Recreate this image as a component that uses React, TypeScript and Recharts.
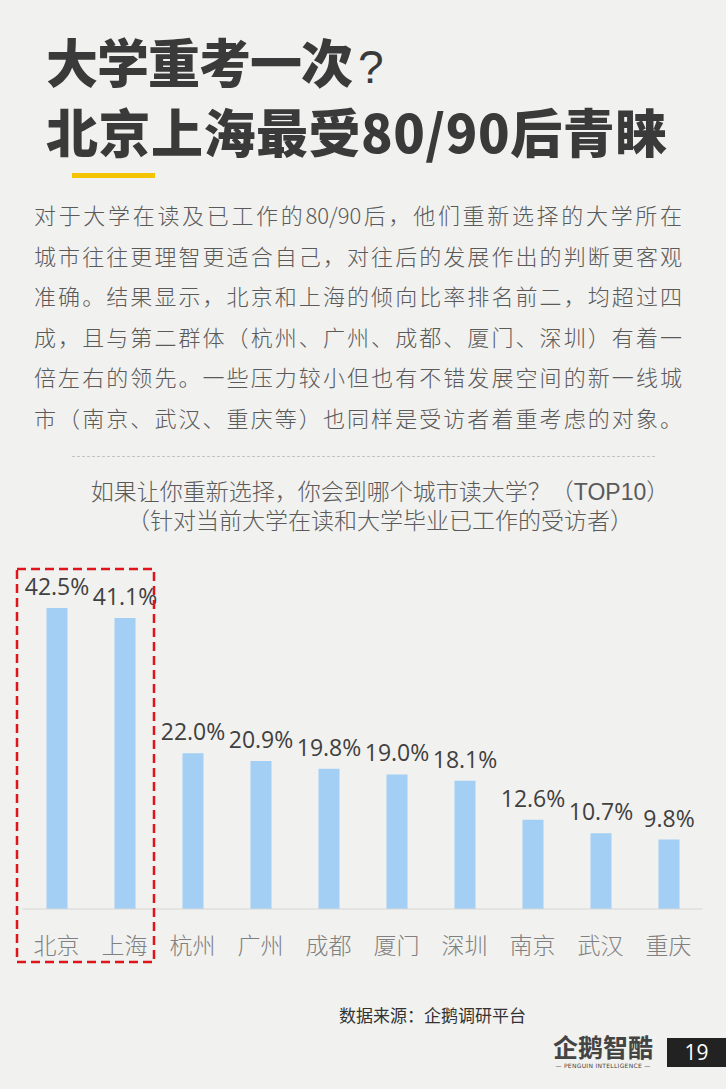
import React from "react";
import { BarChart, Bar, XAxis, YAxis, LabelList } from "recharts";

// 城市 / 比例 (%)
const cities = ["北京", "上海", "杭州", "广州", "成都", "厦门", "深圳", "南京", "武汉", "重庆"];
const shares = [42.5, 41.1, 22.0, 20.9, 19.8, 19.0, 18.1, 12.6, 10.7, 9.8];

const titleLines = ["大学重考一次", "北京上海最受80/90后青睐"];
const introLines = [
    "对于大学在读及已工作的80/90后，他们重新选择的大学所在",
    "城市往往更理智更适合自己，对往后的发展作出的判断更客观",
    "准确。结果显示，北京和上海的倾向比率排名前二，均超过四",
    "成，且与第二群体（杭州、广州、成都、厦门、深圳）有着一",
    "倍左右的领先。一些压力较小但也有不错发展空间的新一线城",
    "市（南京、武汉、重庆等）也同样是受访者着重考虑的对象。",
];
const chartTitle = [
    "如果让你重新选择，你会到哪个城市读大学？（TOP10）",
    "（针对当前大学在读和大学毕业已工作的受访者）",
];
const sourceText = "数据来源：企鹅调研平台";

const data = cities.map((name, i) => ({ name, value: shares[i] }));

const CJK = "'Noto Sans CJK SC', 'Noto Sans', sans-serif";
const BG = "#f1f1ef";

const App: React.FC = () => {
    return (
        <div
            style={{
                position: "absolute",
                left: 0,
                top: 0,
                width: 726,
                height: 1089,
                background: BG,
                fontFamily: CJK,
                overflow: "hidden",
            }}
        >
            {/* 标题 */}
            <div
                style={{
                    position: "absolute",
                    left: 46,
                    top: 29,
                    fontSize: 52,
                    lineHeight: "64px",
                    fontWeight: 900,
                    color: "#3a3a3a",
                    whiteSpace: "nowrap",
                }}
            >
                <div style={{ letterSpacing: -1 }}>
                    {titleLines[0]}
                    <span style={{ fontWeight: 400, fontSize: 46, fontFamily: "'Liberation Sans Narrow', 'Liberation Sans', sans-serif", marginLeft: 6 }}>?</span>
                </div>
                <div style={{ letterSpacing: 0.5 }}>{titleLines[1]}</div>
            </div>
            <div style={{ position: "absolute", left: 72, top: 173, width: 83, height: 5, background: "#f5c400" }} />

            {/* 正文 */}
            <div style={{ position: "absolute", left: 34, top: 194, width: 648, color: "#5a5a5a", fontSize: 22 }}>
                {introLines.map((l, i) => (
                    <div key={i} style={{ height: 40.5, lineHeight: "40.5px", textAlign: "justify", textAlignLast: "justify", fontWeight: 300 }}>
                        {l}
                    </div>
                ))}
            </div>

            <div style={{ position: "absolute", left: 72, top: 456, width: 583, borderTop: "1px dashed #c4c4c4" }} />

            {/* 图表标题 */}
            {chartTitle.map((l, i) => (
                <div
                    key={i}
                    style={{
                        position: "absolute",
                        left: 30,
                        top: 478 + i * 29,
                        width: 700,
                        textAlign: "center",
                        color: "#5a5a5a",
                        fontSize: 23,
                        lineHeight: "29px",
                        fontWeight: 300,
                        fontFamily: "'Liberation Sans', 'Noto Sans CJK SC', sans-serif",
                    }}
                >
                    {l}
                </div>
            ))}

            {/* 图表 */}
            <div style={{ position: "absolute", left: 0, top: 560 }}>
                <BarChart width={726} height={420} data={data} margin={{ top: 30.4, right: 23.5, left: 22.5, bottom: 31 }}>
                    <XAxis
                        dataKey="name"
                        height={40}
                        tickLine={false}
                        tickMargin={23}
                        axisLine={{ stroke: "#d6d6d6" }}
                        tick={{ fill: "#808080", fontSize: 23, fontFamily: CJK, fontWeight: 300 }}
                        interval={0}
                    />
                    <YAxis hide domain={[0, 45]} />
                    <Bar dataKey="value" fill="#a3cff5" barSize={21} isAnimationActive={false}>
                        <LabelList
                            dataKey="value"
                            position="top"
                            offset={13}
                            formatter={(v: number) => `${v.toFixed(1)}%`}
                            style={{ fill: "#404040", fontSize: 23, fontFamily: "'Open Sans', sans-serif" }}
                        />
                    </Bar>
                </BarChart>
            </div>

            {/* 红色虚线框 */}
            <svg style={{ position: "absolute", left: 0, top: 0 }} width={726} height={1089}>
                <rect x={17} y={569} width={137} height={393} fill="none" stroke="#e0141b" strokeWidth={2.5} strokeDasharray="9 5" />
            </svg>

            {/* 来源 */}
            <div style={{ position: "absolute", left: 339, top: 1003, fontSize: 17, color: "#333", lineHeight: "24px", whiteSpace: "nowrap" }}>
                {sourceText}
            </div>

            {/* 标识 */}
            <div style={{ position: "absolute", left: 553, top: 1030, width: 100, textAlign: "center", color: "#444" }}>
                <div style={{ fontSize: 25, lineHeight: "32px", fontWeight: 700 }}>企鹅智酷</div>
                <div style={{ fontSize: 6, lineHeight: "8px", fontFamily: "'DejaVu Sans', sans-serif", whiteSpace: "nowrap", letterSpacing: 0.3 }}>
                    — PENGUIN INTELLIGENCE —
                </div>
            </div>
            <div
                style={{
                    position: "absolute",
                    left: 667,
                    top: 1038,
                    width: 59,
                    height: 29,
                    background: "#222",
                    color: "#fff",
                    fontSize: 21,
                    lineHeight: "29px",
                    textAlign: "center",
                    fontFamily: "'Open Sans', sans-serif",
                }}
            >
                19
            </div>
        </div>
    );
};

export default App;
